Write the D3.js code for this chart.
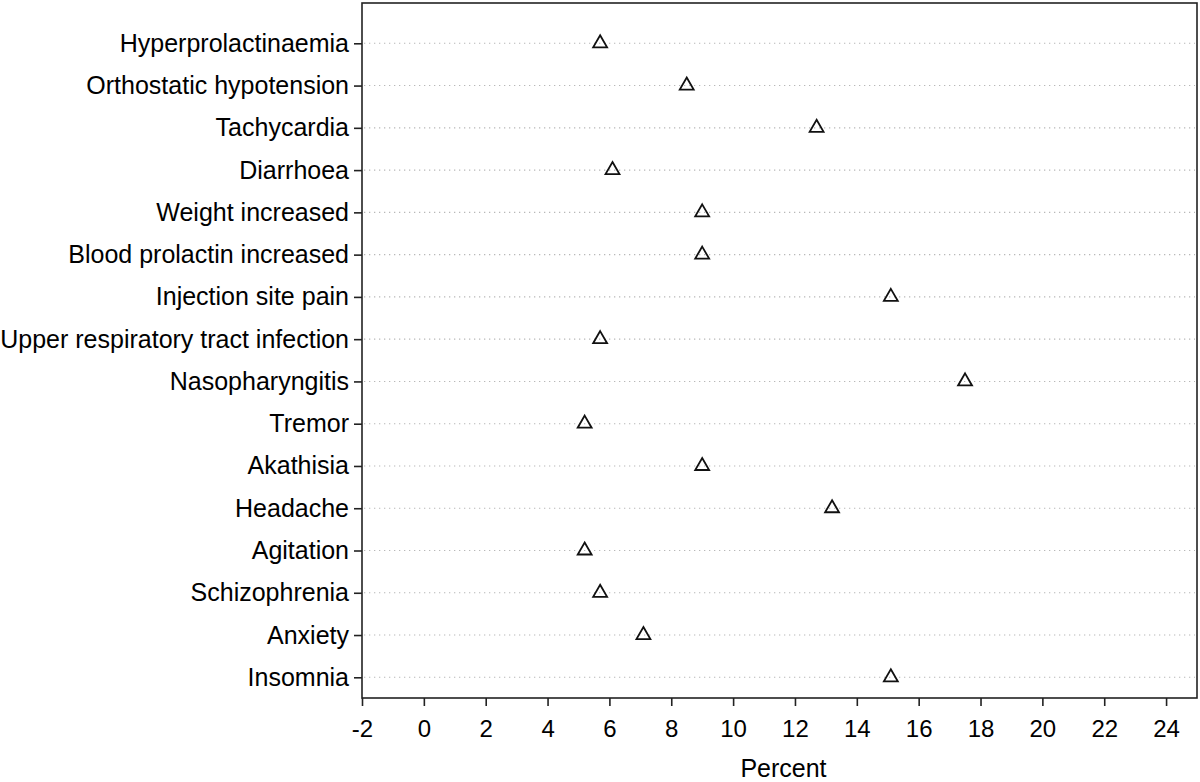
<!DOCTYPE html>
<html>
<head>
<meta charset="utf-8">
<script src="https://cdn.jsdelivr.net/npm/d3@7"></script>
<style>
  body { margin: 0; background: #fff; }
  svg { display: block; font-family: "Liberation Sans", Arial, sans-serif; }
</style>
</head>
<body>
<div id="chart"></div>
<script>
// Adverse events (top to bottom) and their percentages
const events = [
    "Hyperprolactinaemia",
    "Orthostatic hypotension",
    "Tachycardia",
    "Diarrhoea",
    "Weight increased",
    "Blood prolactin increased",
    "Injection site pain",
    "Upper respiratory tract infection",
    "Nasopharyngitis",
    "Tremor",
    "Akathisia",
    "Headache",
    "Agitation",
    "Schizophrenia",
    "Anxiety",
    "Insomnia"
];
const percents = [5.7, 8.5, 12.7, 6.1, 9.0, 9.0, 15.1, 5.7, 17.5, 5.2, 9.0, 13.2, 5.2, 5.7, 7.1, 15.1];
const xTicks = [-2, 0, 2, 4, 6, 8, 10, 12, 14, 16, 18, 20, 22, 24];

const width = 1200, height = 782;
const frame = { left: 362, right: 1197, top: 3, bottom: 698 };

const svg = d3.select("#chart").append("svg")
    .attr("width", width)
    .attr("height", height);

const x = d3.scaleLinear()
    .domain([-2, 25])
    .range([frame.left, frame.right]);

const y = d3.scalePoint()
    .domain(events)
    .range([43.3, 677.3]);

// dotted reference lines for each category
svg.append("g")
    .selectAll("line")
    .data(events)
    .enter()
    .append("line")
    .attr("x1", frame.left + 2)
    .attr("x2", frame.right - 2)
    .attr("y1", d => y(d))
    .attr("y2", d => y(d))
    .attr("stroke", "#b8b8b8")
    .attr("stroke-width", 1.1)
    .attr("stroke-dasharray", "1.3,3.7");

// frame
svg.append("rect")
    .attr("x", frame.left)
    .attr("y", frame.top)
    .attr("width", frame.right - frame.left)
    .attr("height", frame.bottom - frame.top)
    .attr("fill", "none")
    .attr("stroke", "#222")
    .attr("stroke-width", 1.6);

// x axis
const xAxis = svg.append("g")
    .attr("transform", `translate(0,${frame.bottom})`)
    .call(d3.axisBottom(x).tickValues(xTicks).tickSize(8).tickPadding(14).tickFormat(d => String(d)));
xAxis.select(".domain").remove();
xAxis.selectAll("line").attr("stroke", "#222").attr("stroke-width", 1.6);
xAxis.selectAll("text").attr("font-size", "24px").attr("fill", "#000")
    .attr("font-family", "'Liberation Sans', Arial, sans-serif");

// y axis
const yAxis = svg.append("g")
    .attr("transform", `translate(${frame.left},0)`)
    .call(d3.axisLeft(y).tickSize(8).tickPadding(5));
yAxis.select(".domain").remove();
yAxis.selectAll("line").attr("stroke", "#222").attr("stroke-width", 1.6);
yAxis.selectAll("text").attr("font-size", "25px").attr("fill", "#000")
    .attr("font-family", "'Liberation Sans', Arial, sans-serif");

// axis title
svg.append("text")
    .attr("x", (frame.left + frame.right) / 2 + 4)
    .attr("y", 777)
    .attr("text-anchor", "middle")
    .style("font-size", "25px")
    .attr("fill", "#000")
    .text("Percent");

// triangle markers
const tri = d3.symbol().type(d3.symbolTriangle).size(84);
svg.append("g")
    .selectAll("path")
    .data(events.map((e, i) => ({ event: e, value: percents[i] })))
    .enter()
    .append("path")
    .attr("d", tri)
    .attr("transform", d => `translate(${x(d.value)},${y(d.event)})`)
    .attr("fill", "none")
    .attr("stroke", "#111")
    .attr("stroke-width", 1.8);
</script>
</body>
</html>
